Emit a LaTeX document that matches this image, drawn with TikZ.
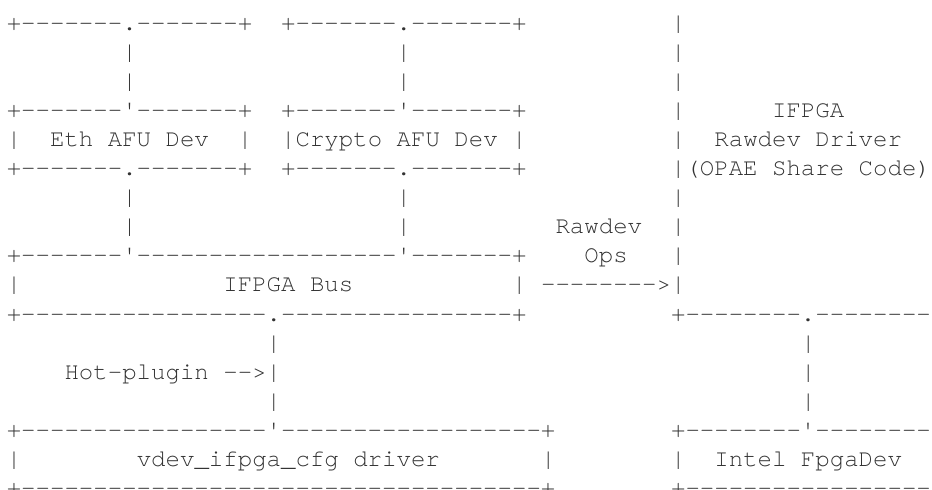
\documentclass[tikz,border=0pt]{standalone}
\usepackage{fontspec}
\newfontfamily\asciifont{texgyrecursor-regular.otf}

\begin{document}
\begin{tikzpicture}[x=7.22pt,y=-14.54pt,
    ascii/.style={font=\asciifont\fontsize{12.03pt}{14.54pt}\selectfont,
      text=black!80,inner sep=0pt,outer sep=0pt,anchor=base west}]
% Fix the page to the size of the reference
\useasboundingbox (-0.471,-1.0385) rectangle (64.07,15.81);
\clip (-0.471,-1.0385) rectangle (64.07,15.81);

% Eth and Crypto AFU device boxes
\node[ascii] (ethtop) at (0,0) {+-------.-------+};
\node[ascii] (cryptotop) at (19,0) {+-------.-------+};
\foreach \r in {1,2}
{
\node[ascii] (ethup\r) at (8,\r) {|};
\node[ascii] (cryptoup\r) at (27,\r) {|};
}
\node[ascii] (ethmid) at (0,3) {+-------'-------+};
\node[ascii] (cryptomid) at (19,3) {+-------'-------+};
\node[ascii] (ethl) at (0,4) {|};
\node[ascii] (eth) at (3,4) {Eth AFU Dev};
\node[ascii] (ethr) at (16,4) {|};
\node[ascii] (crypto) at (19,4) {|Crypto AFU Dev};
\node[ascii] (cryptor) at (35,4) {|};
\node[ascii] (ethbot) at (0,5) {+-------.-------+};
\node[ascii] (cryptobot) at (19,5) {+-------.-------+};
\foreach \r in {6,7}
{
\node[ascii] (ethdown\r) at (8,\r) {|};
\node[ascii] (cryptodown\r) at (27,\r) {|};
}

% IFPGA bus box
\node[ascii] (bustop) at (0,8) {+-------'------------------'-------+};
\node[ascii] (busl) at (0,9) {|};
\node[ascii] (bus) at (15,9) {IFPGA Bus};
\node[ascii] (busr) at (35,9) {|};
\node[ascii] (busbot) at (0,10) {+-----------------.----------------+};

% Hot-plugin link
\foreach \r in {11,13}
\node[ascii] (plug\r) at (18,\r) {|};
\node[ascii] (hotplug) at (4,12) {Hot-plugin -->|};

% vdev_ifpga_cfg driver box
\node[ascii] (cfgtop) at (0,14) {+-----------------'------------------+};
\node[ascii] (cfgl) at (0,15) {|};
\node[ascii] (cfg) at (9,15) {vdev\_ifpga\_cfg driver};
\node[ascii] (cfgr) at (37,15) {|};
\node[ascii] (cfgbot) at (0,16) {+------------------------------------+};

% Rawdev ops arrow
\node[ascii] (ops1) at (38,7) {Rawdev};
\node[ascii] (ops2) at (40,8) {Ops};
\node[ascii] (opsarrow) at (37,9) {-------->|};

% IFPGA rawdev driver
\foreach \r in {0,1,2,3,4,6,7,8}
\node[ascii] (drv\r) at (46,\r) {|};
\node[ascii] (drv1) at (53,3) {IFPGA};
\node[ascii] (drv2) at (49,4) {Rawdev Driver};
\node[ascii] (drv3) at (46,5) {|(OPAE Share Code)};
\node[ascii] (drvbot) at (46,10) {+--------.--------};
\foreach \r in {11,12,13}
\node[ascii] (dev\r) at (55,\r) {|};

% Intel FpgaDev box
\node[ascii] (devtop) at (46,14) {+--------'--------};
\node[ascii] (devl) at (46,15) {|};
\node[ascii] (dev) at (49,15) {Intel FpgaDev};
\node[ascii] (devbot) at (46,16) {+-----------------};

\end{tikzpicture}
\end{document}
